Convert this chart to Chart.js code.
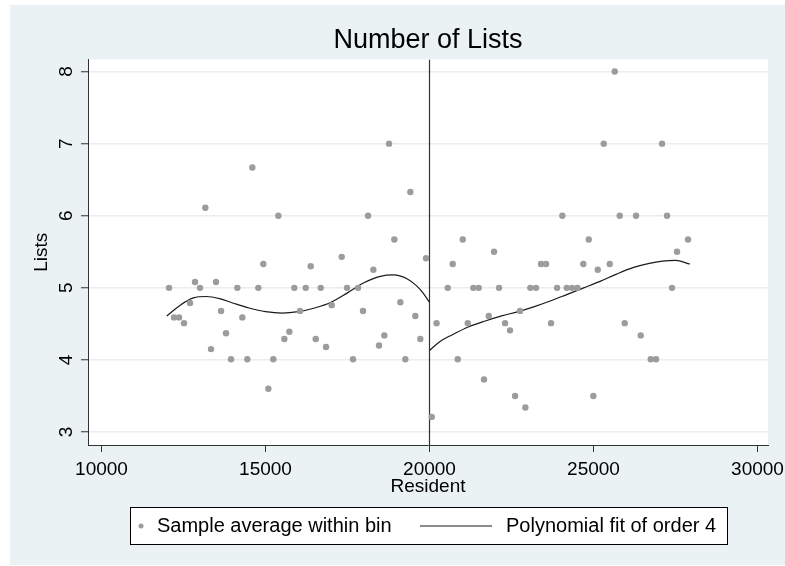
<!DOCTYPE html>
<html>
<head>
<meta charset="utf-8">
<script src="https://cdn.jsdelivr.net/npm/chart.js@4.4.1/dist/chart.umd.min.js"></script>
<style>
  html, body { margin: 0; padding: 0; background: #fff; }
  #wrap { width: 785px; height: 566px; }
</style>
</head>
<body>
<div id="wrap"><canvas id="myChart" width="785" height="566"></canvas></div>
<script>
// bin averages
var binX = [12058, 12210, 12363, 12515, 12698, 12851, 13003, 13165, 13339, 13491,
  13644, 13796, 13948, 14141, 14293, 14446, 14598, 14781, 14934, 15086,
  15238, 15391, 15574, 15727, 15879, 16052, 16226, 16378, 16531, 16684,
  16845, 17018, 17323, 17485, 17668, 17821, 17973, 18126, 18288, 18461,
  18623, 18766, 18928, 19111, 19263, 19416, 19568, 19720, 19894,
  20068, 20215, 20556, 20708, 20861, 21013, 21166, 21336, 21500, 21662,
  21806, 21967, 22120, 22303, 22455, 22608, 22760, 22922, 23074, 23248,
  23400, 23553, 23705, 23889, 24050, 24184, 24346, 24507, 24690, 24855,
  24995, 25130, 25312, 25495, 25647, 25800, 25952, 26297, 26440, 26745,
  26907, 27090, 27242, 27394, 27547, 27882];
var binY = [5.0, 4.59, 4.59, 4.51, 4.79, 5.08, 5.0, 6.11, 4.15, 5.08,
  4.68, 4.37, 4.01, 5.0, 4.59, 4.01, 6.67, 5.0, 5.33, 3.6,
  4.01, 6.0, 4.29, 4.39, 5.0, 4.68, 5.0, 5.3, 4.29, 5.0,
  4.18, 4.76, 5.43, 5.0, 4.01, 5.0, 4.68, 6.0, 5.25, 4.2,
  4.34, 7.0, 5.67, 4.8, 4.01, 6.33, 4.61, 4.29, 5.41,
  3.21, 4.51, 5.0, 5.33, 4.01, 5.67, 4.51, 5.0, 5.0, 3.73,
  4.61, 5.5, 5.0, 4.51, 4.41, 3.5, 4.68, 3.34, 5.0, 5.0,
  5.33, 5.33, 4.51, 5.0, 6.0, 5.0, 5.0, 5.0, 5.33, 5.67,
  3.5, 5.25, 7.0, 5.33, 8.0, 6.0, 4.51, 6.0, 4.34, 4.01,
  4.01, 7.0, 6.0, 5.0, 5.5, 5.67];

// polynomial fit, left and right of the cutoff
var fitLeftX = [11990, 12400, 12800, 13200, 13600, 14000, 14500, 15000, 15500, 16000,
  16500, 17000, 17500, 18000, 18500, 18900, 19300, 19600, 19800, 20000];
var fitLeftY = [4.61, 4.76, 4.86, 4.88, 4.85, 4.79, 4.72, 4.67, 4.65, 4.67,
  4.72, 4.80, 4.93, 5.07, 5.16, 5.18, 5.13, 5.03, 4.93, 4.80];
var fitRightX = [20000, 20300, 20700, 21200, 21700, 22200, 22700, 23200, 23700, 24200,
  24700, 25200, 25700, 26200, 26700, 27100, 27500, 27940];
var fitRightY = [4.13, 4.25, 4.35, 4.46, 4.54, 4.61, 4.67, 4.74, 4.82, 4.91,
  5.00, 5.09, 5.19, 5.28, 5.34, 5.37, 5.38, 5.33];

var cutoff = 20000;
var xTicks = [10000, 15000, 20000, 25000, 30000];
var yTicks = [3, 4, 5, 6, 7, 8];
var xMin = 9588, xMax = 30320;
var yMin = 2.82, yMax = 8.167;

var FONT = "'Liberation Sans', Arial, sans-serif";
Chart.defaults.font.family = FONT;

function pairs(xs, ys) {
  return xs.map(function (x, i) { return { x: x, y: ys[i] }; });
}

var bgPlugin = {
  id: 'bg',
  beforeDraw: function (chart) {
    var ctx = chart.ctx, a = chart.chartArea;
    ctx.save();
    ctx.fillStyle = '#fff';
    ctx.fillRect(0, 0, chart.width, chart.height);
    ctx.fillStyle = '#eaf2f3';
    ctx.fillRect(10, 5, chart.width - 10, chart.height - 6);
    ctx.fillStyle = '#fff';
    ctx.fillRect(a.left, a.top, a.right - a.left, a.bottom - a.top);
    ctx.restore();
  }
};

// title, rotated y labels and the boxed legend
var textPlugin = {
  id: 'texts',
  afterDraw: function (chart) {
    var ctx = chart.ctx, a = chart.chartArea, ys = chart.scales.y;
    ctx.save();
    ctx.fillStyle = '#000';
    ctx.font = '27px ' + FONT;
    ctx.textAlign = 'center';
    ctx.textBaseline = 'middle';
    ctx.fillText('Number of Lists', (a.left + a.right) / 2, 41);

    ctx.font = '19px ' + FONT;
    yTicks.forEach(function (v) {
      var py = ys.getPixelForValue(v);
      ctx.save();
      ctx.translate(67, py);
      ctx.rotate(-Math.PI / 2);
      ctx.fillText(String(v), 0, 0);
      ctx.restore();
    });

    // legend
    ctx.fillStyle = '#fff';
    ctx.fillRect(130.5, 507.5, 597, 37);
    ctx.strokeStyle = '#000';
    ctx.lineWidth = 1;
    ctx.strokeRect(130.5, 507.5, 597, 37);
    ctx.fillStyle = '#9c9c9c';
    ctx.beginPath();
    ctx.arc(141, 526, 2.5, 0, Math.PI * 2);
    ctx.fill();
    ctx.strokeStyle = '#1a1a1a';
    ctx.lineWidth = 1.2;
    ctx.beginPath();
    ctx.moveTo(420, 526);
    ctx.lineTo(492, 526);
    ctx.stroke();
    ctx.fillStyle = '#000';
    ctx.font = '20px ' + FONT;
    ctx.textAlign = 'left';
    ctx.fillText('Sample average within bin', 157, 526);
    ctx.fillText('Polynomial fit of order 4', 506, 526);
    ctx.restore();
  }
};

var myChart = document.getElementById('myChart').getContext('2d');
var chart = new Chart(myChart, {
  type: 'scatter',
  data: {
    datasets: [
      {
        label: 'Sample average within bin',
        data: pairs(binX, binY),
        backgroundColor: '#9c9c9c',
        borderWidth: 0,
        pointRadius: 3.2
      },
      {
        label: 'Polynomial fit of order 4',
        data: pairs(fitLeftX, fitLeftY),
        showLine: true,
        borderColor: '#1a1a1a',
        borderWidth: 1.2,
        pointRadius: 0,
        cubicInterpolationMode: 'monotone'
      },
      {
        label: 'fit right',
        data: pairs(fitRightX, fitRightY),
        showLine: true,
        borderColor: '#1a1a1a',
        borderWidth: 1.2,
        pointRadius: 0,
        cubicInterpolationMode: 'monotone'
      },
      {
        label: 'cutoff',
        data: [{ x: cutoff, y: yMin }, { x: cutoff, y: yMax }],
        showLine: true,
        borderColor: '#333',
        borderWidth: 1.2,
        pointRadius: 0
      }
    ]
  },
  options: {
    responsive: false,
    animation: false,
    devicePixelRatio: 1,
    layout: { padding: { top: 59.5, left: 32, right: 17, bottom: 69.5 } },
    plugins: {
      legend: { display: false },
      title: { display: false },
      tooltip: { enabled: false }
    },
    scales: {
      x: {
        type: 'linear',
        min: xMin,
        max: xMax,
        afterBuildTicks: function (s) { s.ticks = xTicks.map(function (v) { return { value: v }; }); },
        afterFit: function (s) { s.height = 51.5; s.paddingLeft = 0; s.paddingRight = 0; },
        grid: { drawOnChartArea: false, drawTicks: true, tickLength: 7, tickColor: '#333', color: '#333' },
        border: { display: true, color: '#333', width: 1 },
        ticks: {
          color: '#000', font: { size: 19 }, padding: 6, maxRotation: 0, autoSkip: false,
          callback: function (v) { return String(v); }
        },
        title: { display: true, text: 'Resident', color: '#000', font: { size: 19, lineHeight: 1 }, padding: 0 }
      },
      y: {
        type: 'linear',
        min: yMin,
        max: yMax,
        afterBuildTicks: function (s) { s.ticks = yTicks.map(function (v) { return { value: v }; }); },
        afterFit: function (s) { s.width = 56; },
        grid: { color: '#e6eef0', lineWidth: 1.5, drawTicks: true, tickLength: 7, tickColor: '#333', tickWidth: 1 },
        border: { display: true, color: '#333', width: 1 },
        ticks: { display: false },
        title: { display: true, text: 'Lists', color: '#000', font: { size: 19, lineHeight: 1 }, padding: 0 }
      }
    }
  },
  plugins: [bgPlugin, textPlugin]
});
</script>
</body>
</html>
